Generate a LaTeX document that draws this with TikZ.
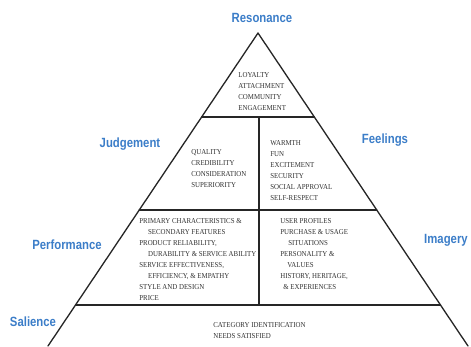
\documentclass[tikz,border=0pt]{standalone}
\usepackage{fontspec}
\setmainfont[FakeStretch=0.91]{Liberation Serif}
\newfontfamily\levelfont[FakeStretch=0.85]{Liberation Sans}
\usetikzlibrary{calc}
\definecolor{levelblue}{HTML}{3B7DC8}
\definecolor{itemgray}{HTML}{303030}
\tikzset{
 level/.style={font=\levelfont\bfseries\fontsize{7.6}{9}\selectfont, text=levelblue, inner sep=0pt},
 items/.style={font=\fontsize{4.3}{6.2}\selectfont, text=itemgray, align=left, anchor=north west, inner sep=0pt},
 edge/.style={line width=0.75pt, draw=black!85, line cap=round, line join=round}
}
\begin{document}
\begin{tikzpicture}[x=0.02cm, y=-0.02cm]
 \useasboundingbox (0,0) rectangle (471,346);
 \coordinate (apex) at (258,33);
 \coordinate (bl) at (48,346);
 \coordinate (br) at (468,346);
 % level lines cut from the two sides
 \foreach \t/\n in {0.268/a, 0.5655/b, 0.869/c} {
  \coordinate (l\n) at ($(apex)!\t!(bl)$);
  \coordinate (r\n) at ($(apex)!\t!(br)$);
 }
 \coordinate (ma) at (259,117);
 \coordinate (mc) at (259,305);
 \draw[edge] (bl) -- (apex) -- (br);
 \draw[edge] (la) -- (ra) (lb) -- (rb) (lc) -- (rc);
 \draw[edge] (ma) -- (mc);
 % level names
 \node[level] (resonance) at (262,18) {Resonance};
 \node[level] (judgement) at (130,144) {Judgement};
 \node[level] (feelings) at (385,140) {Feelings};
 \node[level] (performance) at (67,245) {Performance};
 \node[level] (imagery) at (446,240) {Imagery};
 \node[level] (salience) at (33,322) {Salience};
 % contents of the blocks
 \node[items] (resonancetext) at (238,72.5) {LOYALTY\\ATTACHMENT\\COMMUNITY\\ENGAGEMENT};
 \node[items] (judgementtext) at (191,149.5) {QUALITY\\CREDIBILITY\\CONSIDERATION\\SUPERIORITY};
 \node[items] (feelingstext) at (270,140.5) {WARMTH\\FUN\\EXCITEMENT\\SECURITY\\SOCIAL APPROVAL\\SELF-RESPECT};
 \node[items] (performancetext) at (139,218.5) {PRIMARY CHARACTERISTICS \&\\\hspace{5pt}SECONDARY FEATURES\\PRODUCT RELIABILITY,\\\hspace{5pt}DURABILITY \& SERVICE ABILITY\\SERVICE EFFECTIVENESS,\\\hspace{5pt}EFFICIENCY, \& EMPATHY\\STYLE AND DESIGN\\PRICE};
 \node[items] (imagerytext) at (280,218.5) {USER PROFILES\\PURCHASE \& USAGE\\\hspace{4.5pt}SITUATIONS\\PERSONALITY \&\\\hspace{4pt}VALUES\\HISTORY, HERITAGE,\\\hspace{1.7pt}\& EXPERIENCES};
 \node[items] (saliencetext) at (213,322.5) {CATEGORY IDENTIFICATION\\NEEDS SATISFIED};
\end{tikzpicture}
\end{document}
